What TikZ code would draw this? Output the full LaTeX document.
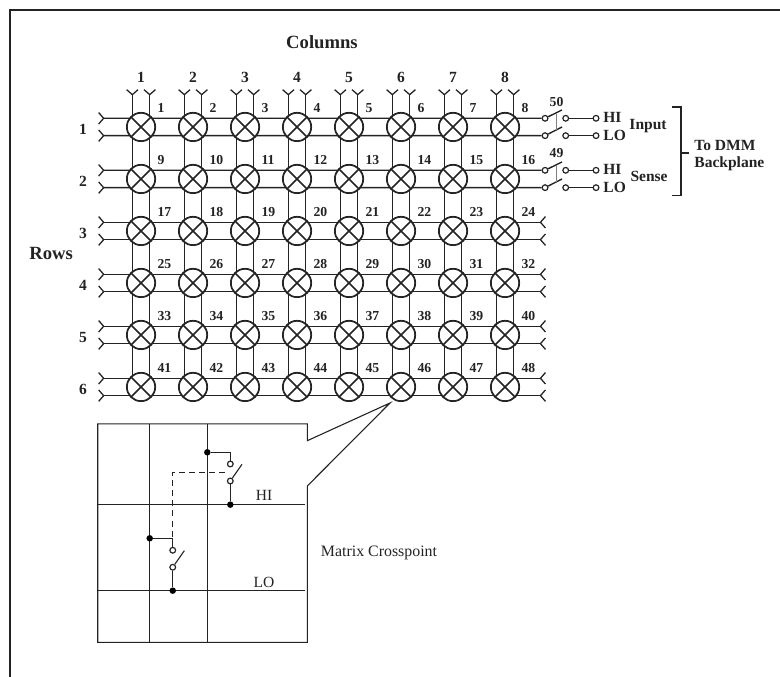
\documentclass[tikz,border=0pt]{standalone}
\usepackage{fontspec}
\setmainfont{Liberation Serif}
\usetikzlibrary{arrows.meta, calc, backgrounds}
\definecolor{inkblack}{RGB}{35, 35, 35}
\tikzset{
  wire/.style={draw=inkblack, line width=0.75pt},
  forkend/.style={-{Straight Barb[reversed, length=0.96mm, width=2.2mm, line width=0.7pt]}},
  forkboth/.style={{Straight Barb[reversed, length=0.96mm, width=2.2mm, line width=0.7pt]}-{Straight Barb[reversed, length=0.96mm, width=2.2mm, line width=0.7pt]}},
  xpoint/.style={circle, draw=inkblack, fill=white, line width=0.95pt, minimum size=5.45mm, inner sep=0pt,
    path picture={\draw[inkblack, line width=0.85pt] (path picture bounding box.north west) -- (path picture bounding box.south east)
      (path picture bounding box.north east) -- (path picture bounding box.south west);}},
  numlabel/.style={font=\bfseries\fontsize{7.5}{9}\selectfont, text=inkblack, anchor=west, inner sep=0pt},
  headlabel/.style={font=\bfseries\fontsize{8.5}{10}\selectfont, text=inkblack, inner sep=0pt},
  titlelabel/.style={font=\bfseries\fontsize{10.2}{12}\selectfont, text=inkblack, inner sep=0pt},
  contact/.style={circle, draw=inkblack, fill=white, line width=0.65pt, minimum size=1.1mm, inner sep=0pt},
  dot/.style={circle, fill=black, minimum size=1.25mm, inner sep=0pt},
  thinline/.style={draw=inkblack, line width=0.6pt},
  gang/.style={draw=gray, line width=0.4pt}
}
\begin{document}
\begin{tikzpicture}
\useasboundingbox (-1.712,-5.577) rectangle (13.288,7.442);

% Outer frame
\draw[inkblack, line width=1.5pt] (-1.519,-5.577) -- (-1.519,7.25) -- (13.288,7.25);

% Titles
\node[titlelabel] (coltitle) at (4.48,6.635) {Columns};
\node[titlelabel] (rowtitle) at (-0.73,2.56) {Rows};

% Column numbers
\node[headlabel] (col1) at (1,5.96) {1};
\node[headlabel] (col2) at (2,5.96) {2};
\node[headlabel] (col3) at (3,5.96) {3};
\node[headlabel] (col4) at (4,5.96) {4};
\node[headlabel] (col5) at (5,5.96) {5};
\node[headlabel] (col6) at (6,5.96) {6};
\node[headlabel] (col7) at (7,5.96) {7};
\node[headlabel] (col8) at (8,5.96) {8};

% Row numbers
\node[headlabel] (row1) at (-0.115,4.96) {1};
\node[headlabel] (row2) at (-0.115,3.96) {2};
\node[headlabel] (row3) at (-0.115,2.96) {3};
\node[headlabel] (row4) at (-0.115,1.96) {4};
\node[headlabel] (row5) at (-0.115,0.96) {5};
\node[headlabel] (row6) at (-0.115,-0.04) {6};

% Crosspoints, row 1
\node[xpoint] (xp1) at (1,5) {}; \node[numlabel] (n1) at (1.31,5.37) {1};
\node[xpoint] (xp2) at (2,5) {}; \node[numlabel] (n2) at (2.31,5.37) {2};
\node[xpoint] (xp3) at (3,5) {}; \node[numlabel] (n3) at (3.31,5.37) {3};
\node[xpoint] (xp4) at (4,5) {}; \node[numlabel] (n4) at (4.31,5.37) {4};
\node[xpoint] (xp5) at (5,5) {}; \node[numlabel] (n5) at (5.31,5.37) {5};
\node[xpoint] (xp6) at (6,5) {}; \node[numlabel] (n6) at (6.31,5.37) {6};
\node[xpoint] (xp7) at (7,5) {}; \node[numlabel] (n7) at (7.31,5.37) {7};
\node[xpoint] (xp8) at (8,5) {}; \node[numlabel] (n8) at (8.31,5.37) {8};

% Crosspoints, row 2
\node[xpoint] (xp9) at (1,4) {}; \node[numlabel] (n9) at (1.31,4.37) {9};
\node[xpoint] (xp10) at (2,4) {}; \node[numlabel] (n10) at (2.31,4.37) {10};
\node[xpoint] (xp11) at (3,4) {}; \node[numlabel] (n11) at (3.31,4.37) {11};
\node[xpoint] (xp12) at (4,4) {}; \node[numlabel] (n12) at (4.31,4.37) {12};
\node[xpoint] (xp13) at (5,4) {}; \node[numlabel] (n13) at (5.31,4.37) {13};
\node[xpoint] (xp14) at (6,4) {}; \node[numlabel] (n14) at (6.31,4.37) {14};
\node[xpoint] (xp15) at (7,4) {}; \node[numlabel] (n15) at (7.31,4.37) {15};
\node[xpoint] (xp16) at (8,4) {}; \node[numlabel] (n16) at (8.31,4.37) {16};

% Crosspoints, row 3
\node[xpoint] (xp17) at (1,3) {}; \node[numlabel] (n17) at (1.31,3.37) {17};
\node[xpoint] (xp18) at (2,3) {}; \node[numlabel] (n18) at (2.31,3.37) {18};
\node[xpoint] (xp19) at (3,3) {}; \node[numlabel] (n19) at (3.31,3.37) {19};
\node[xpoint] (xp20) at (4,3) {}; \node[numlabel] (n20) at (4.31,3.37) {20};
\node[xpoint] (xp21) at (5,3) {}; \node[numlabel] (n21) at (5.31,3.37) {21};
\node[xpoint] (xp22) at (6,3) {}; \node[numlabel] (n22) at (6.31,3.37) {22};
\node[xpoint] (xp23) at (7,3) {}; \node[numlabel] (n23) at (7.31,3.37) {23};
\node[xpoint] (xp24) at (8,3) {}; \node[numlabel] (n24) at (8.31,3.37) {24};

% Crosspoints, row 4
\node[xpoint] (xp25) at (1,2) {}; \node[numlabel] (n25) at (1.31,2.37) {25};
\node[xpoint] (xp26) at (2,2) {}; \node[numlabel] (n26) at (2.31,2.37) {26};
\node[xpoint] (xp27) at (3,2) {}; \node[numlabel] (n27) at (3.31,2.37) {27};
\node[xpoint] (xp28) at (4,2) {}; \node[numlabel] (n28) at (4.31,2.37) {28};
\node[xpoint] (xp29) at (5,2) {}; \node[numlabel] (n29) at (5.31,2.37) {29};
\node[xpoint] (xp30) at (6,2) {}; \node[numlabel] (n30) at (6.31,2.37) {30};
\node[xpoint] (xp31) at (7,2) {}; \node[numlabel] (n31) at (7.31,2.37) {31};
\node[xpoint] (xp32) at (8,2) {}; \node[numlabel] (n32) at (8.31,2.37) {32};

% Crosspoints, row 5
\node[xpoint] (xp33) at (1,1) {}; \node[numlabel] (n33) at (1.31,1.37) {33};
\node[xpoint] (xp34) at (2,1) {}; \node[numlabel] (n34) at (2.31,1.37) {34};
\node[xpoint] (xp35) at (3,1) {}; \node[numlabel] (n35) at (3.31,1.37) {35};
\node[xpoint] (xp36) at (4,1) {}; \node[numlabel] (n36) at (4.31,1.37) {36};
\node[xpoint] (xp37) at (5,1) {}; \node[numlabel] (n37) at (5.31,1.37) {37};
\node[xpoint] (xp38) at (6,1) {}; \node[numlabel] (n38) at (6.31,1.37) {38};
\node[xpoint] (xp39) at (7,1) {}; \node[numlabel] (n39) at (7.31,1.37) {39};
\node[xpoint] (xp40) at (8,1) {}; \node[numlabel] (n40) at (8.31,1.37) {40};

% Crosspoints, row 6
\node[xpoint] (xp41) at (1,0) {}; \node[numlabel] (n41) at (1.31,0.37) {41};
\node[xpoint] (xp42) at (2,0) {}; \node[numlabel] (n42) at (2.31,0.37) {42};
\node[xpoint] (xp43) at (3,0) {}; \node[numlabel] (n43) at (3.31,0.37) {43};
\node[xpoint] (xp44) at (4,0) {}; \node[numlabel] (n44) at (4.31,0.37) {44};
\node[xpoint] (xp45) at (5,0) {}; \node[numlabel] (n45) at (5.31,0.37) {45};
\node[xpoint] (xp46) at (6,0) {}; \node[numlabel] (n46) at (6.31,0.37) {46};
\node[xpoint] (xp47) at (7,0) {}; \node[numlabel] (n47) at (7.31,0.37) {47};
\node[xpoint] (xp48) at (8,0) {}; \node[numlabel] (n48) at (8.31,0.37) {48};

% Input and sense relays
\node[contact] (inhia) at (8.77,5.167) {};
\node[contact] (inhib) at (9.167,5.167) {};
\node[contact] (inhic) at (9.75,5.167) {};
\node[contact] (inloa) at (8.77,4.833) {};
\node[contact] (inlob) at (9.167,4.833) {};
\node[contact] (inloc) at (9.75,4.833) {};
\node[contact] (sehia) at (8.77,4.167) {};
\node[contact] (sehib) at (9.167,4.167) {};
\node[contact] (sehic) at (9.75,4.167) {};
\node[contact] (seloa) at (8.77,3.833) {};
\node[contact] (selob) at (9.167,3.833) {};
\node[contact] (seloc) at (9.75,3.833) {};
\coordinate (inhitip) at (9.096,5.327);
\coordinate (inlotip) at (9.096,5.0);
\coordinate (sehitip) at (9.096,4.327);
\coordinate (selotip) at (9.096,4.0);
\draw[wire] (inhia) -- (inhitip);
\draw[wire] (inloa) -- (inlotip);
\draw[wire] (sehia) -- (sehitip);
\draw[wire] (seloa) -- (selotip);
\draw[gang] ($(inhia)!0.64!(inhitip)$) -- ($(inloa)!0.64!(inlotip)$);
\draw[gang] ($(sehia)!0.64!(sehitip)$) -- ($(seloa)!0.64!(selotip)$);
\draw[wire] (inhib) -- (inhic);
\draw[wire] (inlob) -- (inloc);
\draw[wire] (sehib) -- (sehic);
\draw[wire] (selob) -- (seloc);
\node[numlabel, anchor=center] (n50) at (8.99,5.48) {50};
\node[numlabel, anchor=center] (n49) at (8.99,4.49) {49};
\node[headlabel, anchor=west] (inhi) at (9.885,5.19) {HI};
\node[headlabel, anchor=west] (inlo) at (9.885,4.83) {LO};
\node[headlabel, anchor=west] (sehi) at (9.885,4.19) {HI};
\node[headlabel, anchor=west] (selo) at (9.885,3.83) {LO};
\node[headlabel] (inputlabel) at (10.75,5.02) {Input};
\node[headlabel] (senselabel) at (10.77,4.04) {Sense};

% Bracket to backplane
\coordinate (brtop) at (11.21,5.385);
\coordinate (brbot) at (11.21,3.68);
\coordinate (brmid) at (11.385,4.5);
\draw[wire] (brtop) -- (brtop -| brmid) -- (brbot -| brmid) -- (brbot);
\draw[wire] (brmid) -- ++(0.155,0);
\node[headlabel, anchor=west] (dmm) at (11.635,4.635) {To DMM};
\node[headlabel, anchor=west] (backplane) at (11.635,4.29) {Backplane};

% Wires behind the crosspoints
\begin{scope}[on background layer]
% Column wires
\draw[wire, forkend] ([xshift=-1.67mm]xp41.center) -- ([xshift=-1.67mm,yshift=7.3mm]xp1.center);
\draw[wire, forkend] ([xshift=1.67mm]xp41.center) -- ([xshift=1.67mm,yshift=7.3mm]xp1.center);
\draw[wire, forkend] ([xshift=-1.67mm]xp42.center) -- ([xshift=-1.67mm,yshift=7.3mm]xp2.center);
\draw[wire, forkend] ([xshift=1.67mm]xp42.center) -- ([xshift=1.67mm,yshift=7.3mm]xp2.center);
\draw[wire, forkend] ([xshift=-1.67mm]xp43.center) -- ([xshift=-1.67mm,yshift=7.3mm]xp3.center);
\draw[wire, forkend] ([xshift=1.67mm]xp43.center) -- ([xshift=1.67mm,yshift=7.3mm]xp3.center);
\draw[wire, forkend] ([xshift=-1.67mm]xp44.center) -- ([xshift=-1.67mm,yshift=7.3mm]xp4.center);
\draw[wire, forkend] ([xshift=1.67mm]xp44.center) -- ([xshift=1.67mm,yshift=7.3mm]xp4.center);
\draw[wire, forkend] ([xshift=-1.67mm]xp45.center) -- ([xshift=-1.67mm,yshift=7.3mm]xp5.center);
\draw[wire, forkend] ([xshift=1.67mm]xp45.center) -- ([xshift=1.67mm,yshift=7.3mm]xp5.center);
\draw[wire, forkend] ([xshift=-1.67mm]xp46.center) -- ([xshift=-1.67mm,yshift=7.3mm]xp6.center);
\draw[wire, forkend] ([xshift=1.67mm]xp46.center) -- ([xshift=1.67mm,yshift=7.3mm]xp6.center);
\draw[wire, forkend] ([xshift=-1.67mm]xp47.center) -- ([xshift=-1.67mm,yshift=7.3mm]xp7.center);
\draw[wire, forkend] ([xshift=1.67mm]xp47.center) -- ([xshift=1.67mm,yshift=7.3mm]xp7.center);
\draw[wire, forkend] ([xshift=-1.67mm]xp48.center) -- ([xshift=-1.67mm,yshift=7.3mm]xp8.center);
\draw[wire, forkend] ([xshift=1.67mm]xp48.center) -- ([xshift=1.67mm,yshift=7.3mm]xp8.center);
% Rows 1 and 2 run from the left stub to the relays
\draw[wire, forkend] (inhia) -- ([xshift=-8.27mm,yshift=1.67mm]xp1.center);
\draw[wire, forkend] (inloa) -- ([xshift=-8.27mm,yshift=-1.67mm]xp1.center);
\draw[wire, forkend] (sehia) -- ([xshift=-8.27mm,yshift=1.67mm]xp9.center);
\draw[wire, forkend] (seloa) -- ([xshift=-8.27mm,yshift=-1.67mm]xp9.center);
% Rows 3 to 6 have stubs at both ends
\draw[wire, forkboth] ([xshift=-8.27mm,yshift=1.67mm]xp17.center) -- ([xshift=7.9mm,yshift=1.67mm]xp24.center);
\draw[wire, forkboth] ([xshift=-8.27mm,yshift=-1.67mm]xp17.center) -- ([xshift=7.9mm,yshift=-1.67mm]xp24.center);
\draw[wire, forkboth] ([xshift=-8.27mm,yshift=1.67mm]xp25.center) -- ([xshift=7.9mm,yshift=1.67mm]xp32.center);
\draw[wire, forkboth] ([xshift=-8.27mm,yshift=-1.67mm]xp25.center) -- ([xshift=7.9mm,yshift=-1.67mm]xp32.center);
\draw[wire, forkboth] ([xshift=-8.27mm,yshift=1.67mm]xp33.center) -- ([xshift=7.9mm,yshift=1.67mm]xp40.center);
\draw[wire, forkboth] ([xshift=-8.27mm,yshift=-1.67mm]xp33.center) -- ([xshift=7.9mm,yshift=-1.67mm]xp40.center);
\draw[wire, forkboth] ([xshift=-8.27mm,yshift=1.67mm]xp41.center) -- ([xshift=7.9mm,yshift=1.67mm]xp48.center);
\draw[wire, forkboth] ([xshift=-8.27mm,yshift=-1.67mm]xp41.center) -- ([xshift=7.9mm,yshift=-1.67mm]xp48.center);
\end{scope}

% Inset outline with callout to crosspoint 46
\coordinate (apex) at (5.788,-0.308);
\draw[thinline] (0.167,-0.71) -- (4.198,-0.71) -- (4.198,-1.033) -- (apex) -- (4.198,-1.904) -- (4.198,-4.91) -- (0.167,-4.91) -- cycle;

% Inset grid
\draw[thinline] (1.167,-0.71) -- (1.167,-4.91);
\draw[thinline] (2.275,-0.71) -- (2.275,-4.91);
\draw[thinline] (0.167,-2.263) -- (4.154,-2.263);
\draw[thinline] (0.167,-3.917) -- (4.154,-3.917);
\node[font=\fontsize{8.5}{10}\selectfont, text=inkblack, inner sep=0pt] (hilabel) at (3.365,-2.09) {HI};
\node[font=\fontsize{8.5}{10}\selectfont, text=inkblack, inner sep=0pt] (lolabel) at (3.365,-3.75) {LO};
\node[font=\fontsize{8.7}{10}\selectfont, text=inkblack, inner sep=0pt] (crosslabel) at (5.577,-3.19) {Matrix Crosspoint};

% Inset HI switch
\node[dot] (hicol) at (2.275,-1.256) {};
\node[dot] (hirow) at (2.717,-2.263) {};
\node[contact] (hitop) at (2.717,-1.481) {};
\node[contact] (hibot) at (2.717,-1.808) {};
\coordinate (hitip) at (2.942,-1.487);
\draw[wire] (hicol) -| (hitop);
\draw[wire] (hirow) -- (hibot);
\draw[thinline] (hibot) -- (hitip);

% Inset LO switch
\node[dot] (locol) at (1.167,-2.91) {};
\node[dot] (lorow) at (1.61,-3.917) {};
\node[contact] (lotop) at (1.61,-3.14) {};
\node[contact] (lobot) at (1.61,-3.467) {};
\coordinate (lotip) at (1.833,-3.148);
\draw[wire] (locol) -| (lotop);
\draw[wire] (lorow) -- (lobot);
\draw[thinline] (lobot) -- (lotip);

% Dashed link between the two switches
\coordinate (linkend) at (2.615,-1.64);
\coordinate (linkjoin) at (1.61,-2.91);
\draw[thinline, dash pattern=on 3.3pt off 2.2pt] (linkend) -| (linkjoin);
\end{tikzpicture}
\end{document}
